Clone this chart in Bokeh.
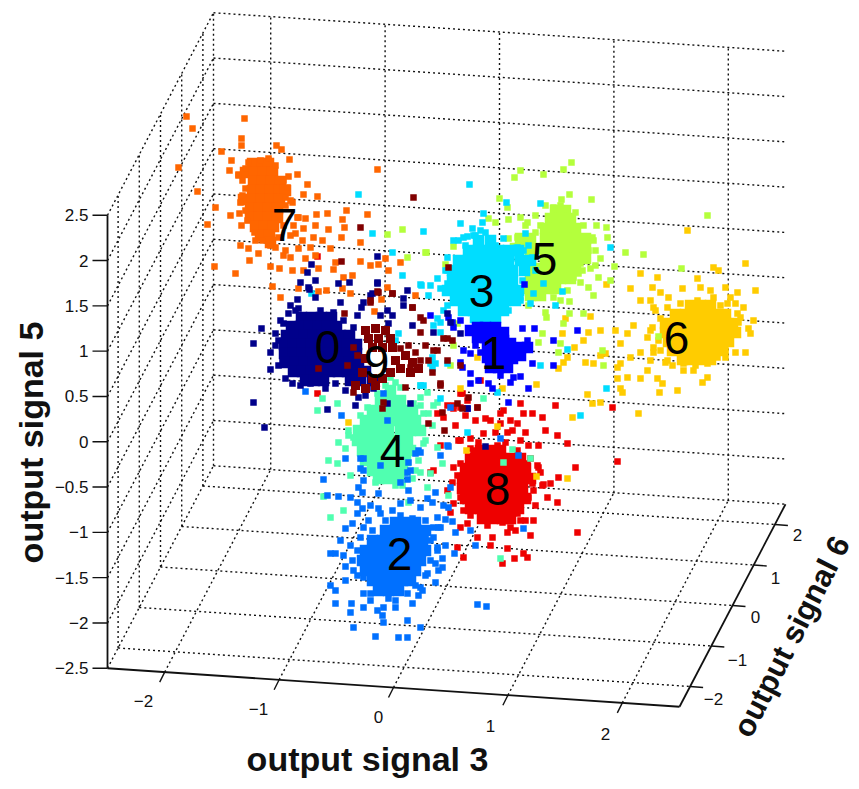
from bokeh.plotting import figure
from bokeh.embed import file_html
from bokeh.resources import INLINE
from bokeh.core.properties import value
import math

# ---------- axes ----------
x_ticks = [-2, -1, 0, 1, 2]
y_ticks = [-2, -1, 0, 1, 2]
z_ticks = [-2.5, -2, -1.5, -1, -0.5, 0, 0.5, 1, 1.5, 2, 2.5]
z_tick_labels = ["−2.5", "−2", "−1.5", "−1", "−0.5", "0", "0.5", "1", "1.5", "2", "2.5"]
LO, HI = -2.5, 2.5

# ---------- projected points (screen position of each sample) ----------
# dense centre of each cloud, rows of (row position, positions along the row)
core_0 = [(317,[301,311,321,331]),(326,[291,300,309,318,327,336]),(335,[286,295,304,313,322,331,340,349]),
 (344,[284,293,302,311,320,329,338,347,356]),(353,[284,293,302,311,320,329,338,347,356]),
 (362,[286,295,304,313,322,331,340,349,358]),(371,[293,302,311,320,329,338,347,356,365]),(380,[305,314,323,350,360,372])]
core_1 = [(330,[470]),(327,[477,485,495]),(332,[503]),(337,[477,485,493]),(340,[503]),(343,[510]),(347,[487,495,520,527]),
 (350,[503,512]),(357,[487,495]),(360,[503]),(358,[512]),(355,[520]),(367,[490,498,507])]
core_2 = [(522,[395,405,415]),(530,[385,395,405,415,425]),(540,[372,382,392,402,412,422]),
 (550,[365,375,385,395,405,415,425]),(560,[362,372,382,392,402,412,420]),(570,[365,375,385,395,405,415]),
 (580,[372,382,392,402,410]),(590,[378,388,398])]
core_3 = [(240,[478,490]),(250,[468,478,488,498,508,518]),(260,[458,468,478,488,498,508,520,530]),
 (270,[452,462,472,482,492,502,512,524]),(280,[452,462,472,482,492,502,512]),(290,[447,458,468,478,488,498,508,518]),
 (300,[455,465,475,485,495,505,515]),(310,[463,473,483,493,503]),(317,[475,485,495])]
core_4 = [(390,[390]),(400,[380,390,400]),(410,[372,382,392,402,412]),
 (420,[365,375,385,395,405,415]),(430,[358,368,378,388,400,410,420]),(440,[357,367,377,387,397,407]),
 (450,[362,372,382,392,402,410]),(460,[365,375,385,395,405]),(470,[372,382,392,402]),(478,[378,388,398])]
core_5 = [(210,[555,565]),(218,[550,560,570]),(228,[545,555,565,575]),(238,[520,530,545,555,565,575,585]),
 (248,[515,525,535,545,555,565,575,585]),(258,[530,545,555,565,575,585]),(268,[535,545,555,565,575]),
 (278,[530,540,550,560,570]),(288,[528,538,548,555]),(295,[530,540])]
core_6 = [(305,[690,700,710]),(314,[675,685,695,705,715,725]),(323,[665,675,685,695,705,715,725,732]),
 (332,[665,675,685,695,705,715,725,735]),(341,[668,678,688,698,708,718,728]),(350,[672,682,692,702,712,722]),(359,[682,692,702,710])]
core_7 = [(163,[252,262,268]),(172,[245,254,263,272]),(181,[253,262,271,280]),(190,[252,261,270,279,285]),
 (199,[243,252,261,270,279]),(208,[250,259,268,277]),(217,[250,259,268,277]),(226,[255,264,273]),(235,[260,269]),(242,[270])]
core_8 = [(450,[480,490,500]),(458,[470,480,490,500,510,520]),(468,[465,475,485,495,505,515,525]),
 (478,[462,472,482,492,502,512,522,530]),(488,[462,472,482,492,502,512,522]),(498,[465,475,485,495,505,515,525]),
 (508,[470,480,490,500,510,518]),(518,[482,492,502,510])]
core_9 = [(328,[375]),(330,[365,385]),(338,[368,378,390]),(347,[372,382,392]),(355,[405]),(358,[365]),(360,[395]),(362,[412]),
 (368,[400,418]),(372,[362,390,410]),(378,[372,382]),(385,[355,375]),(388,[365])]

# single samples around each cloud
pts_0 = [(261,328),(253,343),(270,352),(270,369),(253,402),(264,427),(327,409),(275,333),(280,320),(278,365),(292,383),(335,383),
 (355,405),(358,397),(387,403),(410,403),(373,388),(380,315),(377,283),(338,283),(300,282),(308,287),(315,297),(295,310),(388,323),
 (392,315),(363,302),(372,293),(403,305),(412,325),(447,313),(450,322),(460,333),(433,332),(377,256),(311,264),(307,272),(315,280),
 (309,289),(349,282),(377,282),(407,290),(370,295),(361,307),(297,299),(290,305),(340,302),(387,310),(403,298),(467,408),(485,446),
 (283,323),(278,340),(282,360),(292,372),(303,378),(310,383),(288,313),(298,308),(320,310),(333,312),(343,320),(353,327),(357,315),
 (275,345),(285,378),(345,390),(365,395),(325,388),(300,385)]
pts_1 = [(460,362),(463,350),(470,353),(462,367),(470,373),(478,380),(488,383),(492,388),(513,377),(520,376),(510,382),(528,388),
 (532,363),(522,328),(534,328),(553,365),(553,340),(577,330),(524,284),(527,340),(470,383),(508,402),(467,408),(452,322),(460,320),
 (448,317),(430,315),(453,327),(480,352),(475,345),(500,375)]
pts_2 = [(362,508),(370,505),(378,508),(357,513),(352,523),(345,528),(363,527),(330,553),(343,555),(335,553),(345,566),(353,570),
 (357,575),(330,585),(335,590),(345,580),(335,603),(351,603),(350,612),(363,593),(363,607),(370,600),(377,610),(382,615),(383,622),
 (388,598),(395,607),(412,603),(418,595),(435,582),(420,627),(407,620),(398,637),(407,637),(375,636),(353,627),(477,604),(486,606),
 (442,558),(442,567),(437,547),(445,545),(454,553),(433,527),(440,527),(455,532),(470,530),(475,545),(445,519),(452,521),(427,498),
 (435,492),(443,505),(448,507),(408,490),(407,479),(378,493),(357,502),(350,497),(338,496),(327,495),(323,479),(363,480),(358,487),
 (362,492),(360,458),(363,470),(380,465),(407,472),(418,450),(408,462),(448,446),(500,438),(523,528),(518,455),(420,452),(415,453),
 (363,458),(360,468),(400,482),(410,470),(450,487),(440,455),(447,445),(387,420),(383,393),(305,391),(341,415),(345,458),(450,407),
 (430,540),(438,570),(425,575),(430,560),(422,590),(340,540),
 (400,503),(410,500),(420,507),(432,502),(437,517),(438,527),(433,537),(437,550),(435,563),(427,573),(420,587),(407,593),(383,607),
 (370,593),(363,577),(357,550),(360,537),(368,520),(380,513),(392,510),(400,515),(412,518),(425,520),(385,520),(372,530),(350,545),
 (352,560),(415,585),(395,600),(425,535)]
pts_3 = [(460,223),(469,184),(423,231),(483,213),(482,222),(480,230),(506,202),(540,203),(525,233),(458,240),(467,236),(475,235),
 (447,257),(445,270),(517,258),(523,250),(528,245),(532,257),(543,283),(562,291),(555,305),(530,303),(520,297),(533,293),(610,247),
 (567,349),(540,365),(606,388),(497,392),(430,285),(440,288),(437,278),(421,285),(443,310),(440,322),(433,325),(447,305),(440,332),
 (432,357),(447,363),(435,363),(423,385),(358,194),(372,233),(392,252),(402,275),(420,284),(428,295),(311,293),(437,318),(398,333),
 (395,340),(430,363),(432,368),(420,385),(440,398),(467,432),(580,415),(527,262),(535,270),(472,228),(465,245),
 (453,240),(463,237),(473,235),(490,240),(503,238),(517,247),(447,270),(453,297),(463,310),(477,318),(497,317),(508,310),(520,300),
 (485,232),(495,245),(447,283),(522,280),(515,290),(525,270)]
pts_4 = [(317,410),(337,403),(322,398),(328,460),(337,463),(338,442),(420,397),(427,392),(433,405),(420,405),(428,413),(437,402),
 (483,398),(420,385),(323,496),(343,510),(330,517),(408,502),(376,589),(448,495),(442,463),(420,472),(427,487),(500,558),(530,458),
 (503,462),(512,449),(437,447),(430,473),(402,485),(348,430),(345,448),(425,440),(432,425),(418,460),(412,478),(350,475),
 (390,377),(353,437),(348,435),(360,453),(367,460),(387,470),(407,460),(423,443),(423,413),(413,403),(400,387),(377,393),(367,407),
 (385,385),(395,382),(360,415),(415,470),(375,482),(395,485)]
pts_5 = [(571,162),(563,169),(543,174),(520,170),(514,177),(569,194),(561,199),(591,199),(499,198),(507,207),(488,218),(495,222),
 (508,219),(707,215),(596,225),(606,227),(607,237),(585,237),(593,240),(588,250),(585,258),(578,273),(580,282),(598,277),(588,287),
 (593,295),(610,280),(569,301),(545,312),(546,317),(569,313),(583,313),(563,323),(542,333),(538,342),(560,343),(558,352),(602,350),
 (603,365),(625,252),(643,254),(614,266),(681,268),(658,336),(426,252),(453,246),(445,264),(387,234),(402,229),(425,252),(407,257),
 (453,345),(450,365),(457,323),(525,225),(535,215),(528,305),(515,300),(600,258),(595,265),
 (520,217),(527,222),(553,207),(575,212),(583,225),(592,237),(595,250),(580,263),(573,277),(567,290),(553,297),(537,297),(523,290),
 (517,237),(508,238),(540,225),(535,232),(545,205),(560,205),(590,268),(582,270),(560,300)]
pts_6 = [(745,263),(713,267),(718,270),(697,278),(682,288),(700,287),(710,290),(725,287),(755,290),(640,273),(657,277),(652,287),
 (630,288),(660,292),(650,300),(668,297),(640,300),(737,292),(730,297),(743,307),(735,303),(753,320),(740,317),(748,328),(750,333),
 (735,333),(745,352),(735,352),(725,357),(717,357),(707,377),(702,382),(693,370),(683,370),(677,390),(659,392),(662,383),(657,378),
 (647,370),(640,378),(650,360),(640,352),(653,352),(630,357),(620,363),(617,367),(627,377),(617,378),(620,388),(622,392),(620,343),
 (633,325),(627,333),(615,330),(652,327),(647,337),(600,330),(588,332),(583,340),(562,333),(574,347),(585,362),(593,363),(600,355),
 (605,353),(567,357),(563,362),(558,368),(590,316),(565,318),(606,284),(536,384),(587,394),(600,402),(592,403),(572,417),(638,413),
 (687,230),(536,476),(567,478),(348,422),(460,388),(502,388),(477,357),(497,426),(466,450),(655,310),(660,350),(665,362),(672,365),
 (667,307),(653,307),(650,330),(653,347),(667,360),(683,363),(707,363),(725,350),(730,330),(737,313),(727,303),(713,297),(697,300),
 (680,303),(660,318),(658,340),(670,352),(695,365),(720,305),(722,315),(738,322),(730,343)]
pts_7 = [(186,116),(192,128),(244,118),(241,138),(241,145),(178,167),(197,191),(221,151),(231,160),(229,170),(276,145),(281,149),
 (289,159),(297,174),(307,184),(303,194),(317,196),(292,202),(377,169),(215,207),(207,224),(230,215),(239,213),(241,225),(316,214),
 (327,213),(346,210),(367,214),(342,219),(315,225),(328,229),(344,227),(341,237),(360,242),(254,232),(248,248),(258,253),(249,260),
 (214,266),(235,273),(270,266),(279,268),(283,255),(290,257),(292,270),(303,270),(318,268),(335,262),(360,261),(370,265),(378,264),
 (388,270),(385,258),(400,262),(352,275),(343,277),(333,269),(272,286),(280,297),(298,288),(318,291),(326,290),(342,288),(350,293),
 (381,299),(387,287),(374,311),(415,295),(298,217),(305,218),(295,233),(302,240),(313,237),(322,240),(330,248),(310,247),(298,248),
 (293,225),(303,228),(285,250),(275,247),(240,245),(305,258),(315,255),(238,174),(242,180),(288,176),(290,200),
 (248,162),(268,158),(238,175),(283,180),(287,187),(285,197),(240,202),(245,210),(247,220),(262,240),(270,245),(278,237),(297,217),
 (245,168),(260,160),(275,165),(285,205),(283,225),(290,235),(255,240),(242,195),(245,188)]
pts_8 = [(557,502),(547,497),(550,483),(542,485),(558,477),(537,465),(540,472),(530,480),(557,435),(528,445),(538,445),(567,443),
 (533,520),(525,520),(530,535),(577,532),(507,532),(492,537),(490,545),(507,548),(515,530),(477,537),(460,527),(523,553),(527,557),
 (514,558),(502,563),(463,557),(457,547),(450,512),(453,503),(447,490),(452,482),(453,467),(430,472),(440,445),(458,440),(460,393),
 (467,400),(460,407),(453,405),(437,413),(443,417),(447,405),(485,418),(490,420),(503,410),(510,420),(517,423),(500,423),(507,432),
 (483,433),(460,440),(470,438),(433,470),(317,393),(477,407),(480,380),(462,393),(453,408),(500,413),(520,403),(532,413),(555,405),
 (523,413),(612,407),(542,417),(575,467),(617,461),(538,467),(543,484),(532,483),(317,256),(512,430),(525,432),(495,432),(475,420),
 (465,415),(520,440),(545,430),(455,425),(470,448),
 (460,497),(463,510),(480,520),(502,522),(517,513),(528,497),(527,463),(517,450),(497,445),(473,450),(460,463),(467,523),(520,520),
 (533,490),(457,475),(485,448),(530,458),(535,505),(487,525),(470,515),(510,527),(478,442),(505,442)]
pts_9 = [(420,317),(420,332),(412,307),(447,338),(437,350),(428,360),(447,360),(420,360),(410,367),(432,372),(460,365),(353,347),
 (357,355),(347,365),(392,293),(378,292),(370,300),(353,392),(383,402),(382,408),(428,423),(444,430),(442,412),(405,387),(440,385),
 (457,403),(468,397),(462,408),(477,407),(318,368),(452,340),(413,197),(360,227),(341,261),(392,293),(412,307),(370,302),(344,313),
 (377,291),(448,267),(423,320),(443,338),(433,350),(440,383),(400,348),(408,345),(425,345),(415,352)]

# ---------- digit annotations ----------
digit_text = ["0", "1", "2", "3", "4", "5", "6", "7", "8", "9"]
digit_x = [327, 493, 399, 481, 392, 544, 676, 284, 497, 376]
digit_y = [346, 352, 553, 290, 450, 258, 337, 224, 488, 361]
colors = ["#00008B", "#0000FF", "#0070FF", "#00DDFF", "#50FFB0", "#B4FF3C", "#FFCC00", "#FF6600", "#EE0000", "#800000"]

# ---------- orthographic view read from the box corners ----------
def project(x, y, z):
    return (446 + 114.4 * x + 21.2 * y, 359.25 + 7.7 * x - 40.5 * y - 90.6 * z)

def seg(a, b):
    pa, pb = project(*a), project(*b)
    return [pa[0], pb[0]], [pa[1], pb[1]]

p = figure(width=859, height=789, x_range=(0, 859), y_range=(789, 0), output_backend="svg", toolbar_location=None,
           x_axis_location=None, y_axis_location=None, min_border=0, outline_line_color=None,
           background_fill_color="white", border_fill_color="white")
p.grid.visible = False

# dotted walls and floor
segs = []
for z in z_ticks:
    segs.append(seg((LO, LO, z), (LO, HI, z)))
    segs.append(seg((LO, HI, z), (HI, HI, z)))
for x in x_ticks:
    segs.append(seg((x, LO, LO), (x, HI, LO)))
    segs.append(seg((x, HI, LO), (x, HI, HI)))
for y in y_ticks:
    segs.append(seg((LO, y, LO), (HI, y, LO)))
    segs.append(seg((LO, y, LO), (LO, y, HI)))
segs.append(seg((LO, HI, LO), (LO, HI, HI)))
p.multi_line([s[0] for s in segs], [s[1] for s in segs], line_color="#111111", line_width=1.4, line_dash="2 3")

# solid box edges
edges = [seg((LO, LO, LO), (HI, LO, LO)), seg((HI, LO, LO), (HI, HI, LO)), seg((LO, LO, LO), (LO, LO, HI))]
p.multi_line([s[0] for s in edges], [s[1] for s in edges], line_color="#111111", line_width=1.8)

# tick marks
tx, ty = [], []
for x in x_ticks:
    a = project(x, LO, LO)
    tx.append([a[0], a[0] - 5]); ty.append([a[1], a[1] + 10])
for y in y_ticks:
    a = project(HI, y, LO)
    tx.append([a[0], a[0] + 13]); ty.append([a[1], a[1] + 1])
for z in z_ticks:
    a = project(LO, LO, z)
    tx.append([a[0], a[0] - 15]); ty.append([a[1], a[1]])
p.multi_line(tx, ty, line_color="#111111", line_width=1.4)

# point clouds, in the stacking order of the picture
def expand(rows):
    xs, ys = [], []
    for r, vals in rows:
        for v in vals:
            xs.append(v); ys.append(r)
    return xs, ys

order = [(8, core_8, pts_8), (7, core_7, pts_7), (6, core_6, pts_6), (5, core_5, pts_5), (4, core_4, pts_4),
         (3, core_3, pts_3), (2, core_2, pts_2), (1, core_1, pts_1), (0, core_0, pts_0), (9, core_9, pts_9)]
for i, core, pts in order:
    cx, cy = expand(core)
    p.scatter(cx, cy, marker="square", size=11.5 if i != 9 else 9, fill_color=colors[i], line_color=None)
    p.scatter([q[0] for q in pts], [q[1] for q in pts], marker="square", size=6.5, fill_color=colors[i], line_color=None)

font = value("Liberation Sans")
p.text(digit_x, digit_y, text=digit_text, text_font=font, text_font_size="46px", text_color="black",
       text_align="center", text_baseline="middle")

# tick labels
lab_x = [143, 258, 378, 490, 605]
lab_y = [700, 708, 716, 725, 733]
p.text(lab_x, lab_y, text=[str(v).replace("-", "−") for v in x_ticks], text_font=font, text_font_size="17px",
       text_color="#111111", text_align="center", text_baseline="middle")
rx = [713, 737, 755, 775, 797]
ry = [698, 659, 616, 577, 534]
p.text(rx, ry, text=[str(v).replace("-", "−") for v in y_ticks], text_font=font, text_font_size="17px",
       text_color="#111111", text_align="center", text_baseline="middle")
zx = [88] * len(z_ticks)
zy = [project(LO, LO, z)[1] for z in z_ticks]
p.text(zx, zy, text=z_tick_labels, text_font=font, text_font_size="17px",
       text_color="#111111", text_align="right", text_baseline="middle")

# axis titles
p.text([367], [758], text=["output signal 3"], text_font=font, text_font_style="bold", text_font_size="34px",
       text_align="center", text_baseline="middle", text_color="#111111")
p.text([30], [442], text=["output signal 5"], text_font=font, text_font_style="bold", text_font_size="34px",
       angle=math.pi / 2, text_align="center", text_baseline="middle", text_color="#111111")
p.text([791], [636], text=["output signal 6"], text_font=font, text_font_style="bold", text_font_size="31px",
       angle=math.radians(63), text_align="center", text_baseline="middle", text_color="#111111")

open("out.html", "w").write(file_html(p, INLINE))
